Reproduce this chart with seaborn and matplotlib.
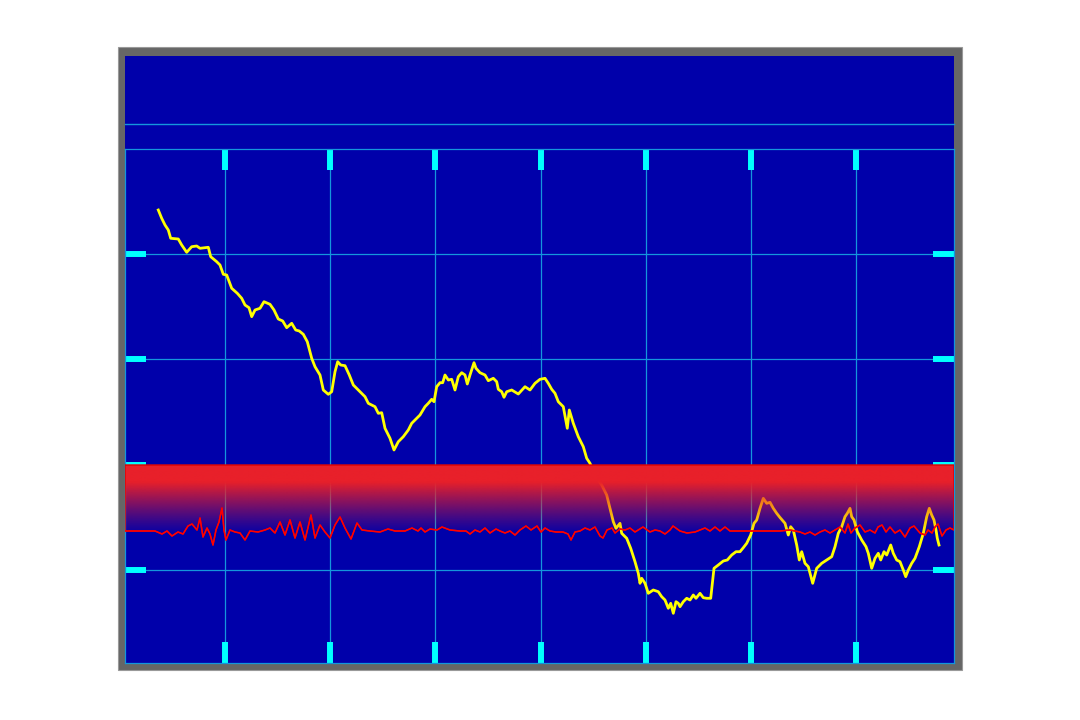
import numpy as np
import matplotlib
matplotlib.use("Agg")
import matplotlib.pyplot as plt
from matplotlib.patches import Rectangle
from matplotlib.lines import Line2D
import seaborn as sns

# yellow trace (x, value)
yellow_x = [5.83, 6.17, 6.5, 6.83, 7.07, 7.83, 8.17, 8.67, 9.17, 9.67, 10.0, 10.83, 11.07, 11.67,
            12.0, 12.33, 12.67, 13.17, 13.73, 14.17, 14.5, 14.9, 15.17, 15.5, 16.0, 16.4, 17.0,
            17.4, 17.83, 18.27, 18.67, 19.17, 19.57, 19.93, 20.33, 20.73, 21.17, 21.5, 22.0,
            22.33, 22.83, 23.17, 23.5, 23.77, 24.07, 24.5, 24.93, 25.33, 26.0, 26.5, 26.83,
            27.5, 27.83, 28.17, 28.5, 29.0, 29.4, 29.83, 30.33, 30.83, 31.17, 31.67, 32.0,
            32.5, 32.83, 33.17, 33.4, 33.67, 34.0, 34.27, 34.5, 34.83, 35.17, 35.5, 35.83,
            36.17, 36.5, 36.73, 37.0, 37.4, 37.6, 38.0, 38.5, 38.83, 39.33, 39.67, 39.83,
            40.17, 40.4, 40.67, 41.17, 41.83, 42.5, 43.0, 43.5, 44.0, 44.5, 44.83, 45.17,
            45.5, 45.83, 46.33, 46.73, 46.93, 47.33, 47.83, 48.33, 48.67, 49.0, 49.5, 50.17,
            50.67, 51.0, 51.33, 51.6, 52.0, 52.17, 52.67, 53.07, 53.5, 53.83, 54.0, 54.17,
            54.5, 54.83, 55.33, 55.83, 56.17, 56.5, 56.83, 57.07, 57.33, 57.6, 57.83, 58.0,
            58.33, 58.67, 59.0, 59.33, 59.6, 60.0, 60.33, 60.67, 61.07, 61.4, 61.83, 62.33,
            62.73, 63.17, 63.6, 64.0, 64.33, 64.67, 65.07, 65.4, 65.67, 66.0, 66.33, 66.67,
            67.0, 67.33, 67.67, 68.0, 68.5, 68.83, 69.07, 69.33, 69.67, 69.93, 70.17, 70.5,
            70.83, 71.27, 71.67, 72.17, 72.67, 73.17, 73.5, 73.83, 74.17, 74.5, 74.73, 75.0,
            75.17, 75.4, 75.73, 76.17, 76.6, 76.83, 77.17, 77.5, 77.83, 78.07, 78.4, 78.67,
            79.07, 79.33, 79.67, 80.0, 80.33, 80.57, 80.83, 81.17, 81.5, 81.93, 82.33, 82.67,
            82.93, 83.17, 83.4, 83.6, 83.73, 83.9]
yellow_y = [49.0, 48.17, 47.5, 47.0, 46.17, 46.1, 45.5, 44.77, 45.33, 45.4, 45.17, 45.27, 44.33,
            43.83, 43.5, 42.57, 42.5, 41.17, 40.67, 40.17, 39.5, 39.23, 38.33, 39.0, 39.17,
            39.83, 39.57, 39.0, 38.1, 37.9, 37.23, 37.67, 37.0, 36.9, 36.57, 35.83, 34.17,
            33.33, 32.5, 31.0, 30.57, 30.83, 32.83, 33.83, 33.5, 33.43, 32.5, 31.5, 30.83,
            30.33, 29.67, 29.33, 28.67, 28.73, 27.17, 26.17, 25.0, 25.83, 26.33, 27.0, 27.67,
            28.17, 28.5, 29.33, 29.67, 30.07, 29.83, 31.33, 31.73, 31.73, 32.5, 32.0, 32.07,
            31.0, 32.33, 32.73, 32.5, 31.6, 32.5, 33.73, 33.17, 32.73, 32.5, 31.93, 32.17,
            31.83, 31.07, 30.83, 30.27, 30.83, 31.0, 30.6, 31.33, 31.0, 31.67, 32.07, 32.17,
            31.67, 31.07, 30.67, 29.83, 29.33, 27.17, 29.0, 27.67, 26.33, 25.33, 24.17, 23.67,
            22.5, 21.5, 20.5, 19.17, 17.83, 17.17, 17.67, 16.67, 16.17, 15.17, 13.83, 12.67,
            11.67, 12.17, 11.67, 10.67, 11.0, 10.83, 10.33, 10.0, 9.17, 9.67, 8.67, 9.83,
            9.67, 9.33, 9.83, 10.17, 10.0, 10.5, 10.17, 10.67, 10.23, 10.17, 10.17, 13.17,
            13.5, 13.9, 14.0, 14.5, 14.83, 14.83, 15.23, 15.67, 16.5, 17.67, 18.0, 19.17,
            20.17, 19.67, 19.77, 19.17, 18.67, 18.25, 17.67, 16.5, 17.33, 17.0, 15.5, 14.0,
            14.83, 13.67, 13.33, 11.67, 13.17, 13.67, 14.0, 14.33, 15.33, 16.67, 17.33, 18.33,
            18.67, 19.17, 18.33, 18.0, 16.83, 16.0, 15.33, 14.67, 13.17, 14.17, 14.67, 14.0,
            14.83, 14.5, 15.5, 14.67, 14.0, 13.83, 13.0, 12.33, 13.0, 13.67, 14.17, 15.33,
            16.67, 18.33, 19.17, 18.5, 18.0, 17.0, 16.17, 15.5]

# red trace (x, value)
red_x = [2.5, 4.0, 5.5, 6.2, 6.7, 7.2, 7.8, 8.3, 8.8, 9.2, 9.7, 10.0, 10.3, 10.7, 11.0, 11.3,
         11.6, 11.9, 12.2, 12.4, 12.6, 13.0, 13.5, 14.0, 14.5, 15.0, 15.8, 16.5, 17.0, 17.5,
         18.0, 18.5, 19.0, 19.5, 20.0, 20.5, 21.1, 21.5, 22.0, 22.5, 23.0, 23.5, 24.0, 24.5,
         25.1, 25.7, 26.2, 27.0, 28.0, 28.8, 29.5, 30.5, 31.2, 31.8, 32.1, 32.5, 33.0, 33.7,
         34.2, 35.0, 36.0, 36.6, 37.0, 37.5, 38.0, 38.5, 39.0, 39.6, 40.0, 40.5, 41.0, 41.5,
         42.0, 42.6, 43.1, 43.7, 44.1, 44.5, 45.0, 45.6, 46.3, 46.8, 47.1, 47.5, 48.0, 48.5,
         49.0, 49.5, 50.0, 50.3, 50.7, 51.2, 51.5, 52.0, 52.5, 53.0, 53.5, 54.3, 55.0, 55.5,
         56.0, 56.5, 57.0, 57.3, 58.0, 58.7, 59.5, 60.0, 60.5, 61.0, 61.5, 62.0, 62.5, 63.0,
         64.0, 65.5, 67.0, 68.0, 69.0, 70.0, 70.5, 71.0, 71.5, 72.0, 72.5, 73.0, 73.5, 74.0,
         74.5, 74.8, 75.1, 75.5, 76.0, 76.5, 77.0, 77.5, 77.8, 78.2, 78.6, 79.0, 79.5, 80.0,
         80.5, 81.0, 81.4, 82.0, 82.5, 82.8, 83.2, 83.5, 83.8, 84.2, 84.6, 85.0, 85.4]
red_y = [16.9, 16.9, 16.9, 16.6, 16.9, 16.4, 16.8, 16.6, 17.4, 17.6, 17.0, 18.2, 16.3, 17.2,
         16.6, 15.5, 17.0, 17.8, 19.2, 17.0, 16.0, 17.0, 16.8, 16.7, 16.0, 16.9, 16.8, 17.0,
         17.2, 16.7, 17.8, 16.5, 18.0, 16.2, 17.8, 16.0, 18.5, 16.2, 17.5, 16.8, 16.2, 17.5,
         18.3, 17.2, 16.1, 17.7, 17.0, 16.9, 16.8, 17.1, 16.9, 16.9, 17.2, 16.9, 17.2, 16.8,
         17.1, 17.0, 17.3, 17.0, 16.9, 16.9, 16.6, 17.0, 16.8, 17.2, 16.7, 17.1, 16.9, 16.7,
         16.9, 16.5, 17.0, 17.4, 17.0, 17.4, 16.8, 17.2, 16.9, 16.8, 16.8, 16.6, 16.0, 16.8,
         16.9, 17.2, 17.0, 17.3, 16.4, 16.2, 17.0, 17.2, 16.7, 17.1, 17.0, 17.2, 16.8, 17.3,
         16.8, 17.0, 16.9, 16.6, 17.0, 17.4, 16.9, 16.7, 16.8, 17.0, 17.2, 16.9, 17.3, 16.9,
         17.3, 16.9, 16.9, 16.9, 16.9, 16.9, 17.0, 16.8, 16.6, 16.8, 16.5, 16.8, 17.0, 16.7,
         17.0, 17.3, 16.7, 17.6, 16.7, 17.2, 17.5, 16.8, 17.0, 16.7, 17.3, 17.5, 16.8, 17.3,
         16.7, 17.0, 16.3, 17.2, 17.4, 16.7, 16.5, 17.0, 16.7, 17.3, 17.6, 16.4, 17.0, 17.2,
         17.0]

band_top = 23.5
x_ticks = [12.5, 23.0, 33.5, 44.1, 54.6, 65.1, 75.6]
y_ticks = [13.0, 23.5, 34.1, 44.6]

BLUE = "#0000AA"
GRID = "#1496DC"
CYAN = "#00FFFF"

fig = plt.figure(figsize=(10.8, 7.2), dpi=100, facecolor="white")
W, H = 1080, 720

# outer frame and blue panel
fig.add_artist(Rectangle((118 / W, 1 - 670 / H), 844 / W, 623 / H, transform=fig.transFigure,
                         facecolor="#666666", edgecolor="#999999", lw=0.8, zorder=-3))
fig.add_artist(Rectangle((125 / W, 1 - 663 / H), 829 / W, 607 / H, transform=fig.transFigure,
                         facecolor=BLUE, edgecolor="none", zorder=-2))
fig.add_artist(Line2D([125 / W, 954 / W], [1 - 124 / H, 1 - 124 / H], transform=fig.transFigure,
                      color=GRID, lw=1.0, zorder=-1))

ax = fig.add_axes([125 / W, 1 - 663 / H, 829 / W, 514 / H])
ax.set_facecolor(BLUE)
ax.set_axisbelow(True)

sns.lineplot(x=yellow_x, y=yellow_y, ax=ax, color="#FFFF00", lw=2.0,
             estimator=None, sort=False, zorder=2)

# gradient band between the red trace and band_top
poly = ax.fill_between(red_x, red_y, band_top, facecolor="none", edgecolor="#E00000",
                       lw=1.0, zorder=3.5)
ny = 200
levels = np.linspace(16.3, band_top, ny)
alpha = np.clip((levels - 16.3) / (21.8 - 16.3), 0, 1) ** 1.2
img = np.zeros((ny, 2, 4))
img[..., 0] = 232 / 255
img[..., 1] = 32 / 255
img[..., 2] = 42 / 255
img[..., 3] = alpha[:, None]
im = ax.imshow(img, extent=[red_x[0], red_x[-1], 16.3, band_top], origin="lower",
               aspect="auto", interpolation="bilinear", zorder=3)
im.set_clip_path(poly.get_paths()[0], transform=ax.transData)

sns.lineplot(x=red_x, y=red_y, ax=ax, color="#FF0000", lw=1.1,
             estimator=None, sort=False, zorder=4)

ax.set_xlim(red_x[0], red_x[-1])
ax.set_ylim(3.7, 55.1)
ax.set_xticks(x_ticks)
ax.set_yticks(y_ticks)
ax.grid(True, color=GRID, lw=0.9)
ax.tick_params(axis="both", which="both", direction="in", length=15, width=4.3, color=CYAN,
               top=True, right=True, bottom=True, left=True,
               labelbottom=False, labelleft=False)
ax.set_xlabel("")
ax.set_ylabel("")
for s in ax.spines.values():
    s.set_color(GRID)
    s.set_linewidth(0.9)

fig.savefig("out.png", dpi=100, facecolor="white")
